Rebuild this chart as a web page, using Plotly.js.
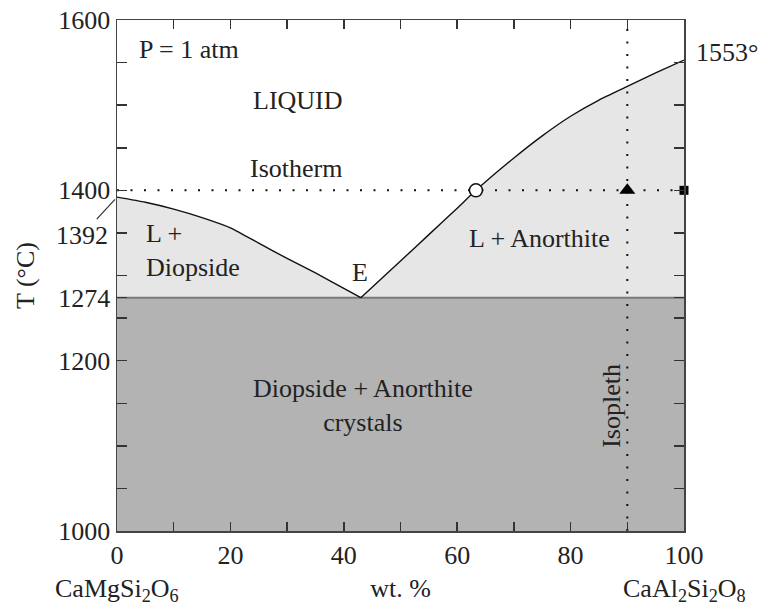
<!DOCTYPE html>
<html>
<head>
<meta charset="utf-8">
<script src="https://cdn.plot.ly/plotly-3.0.1.min.js"></script>
<style>html,body{margin:0;padding:0;background:#fff;}#chart{width:758px;height:606px;}</style>
</head>
<body>
<div id="chart"></div>
<script>
// Liquidus, Diopside side (wt.% Anorthite, T °C)
const liqDiX = [0, 5, 10, 15, 20, 25, 30, 35, 40, 43];
const liqDiT = [1392, 1386, 1378, 1368, 1356, 1338, 1320, 1303, 1285, 1274];
// Liquidus, Anorthite side
const liqAnX = [43, 50, 55, 60, 63.3, 70, 75, 80, 85, 90, 95, 100];
const liqAnT = [1274, 1317, 1348, 1379, 1400, 1438, 1464, 1487, 1506, 1522, 1538, 1553];
// Eutectic / solidus
const eutecticT = 1274;
const compRange = [0, 100];
const tRange = [1000, 1600];
// Isotherm and isopleth
const isothermT = 1400;
const isoplethX = 90;
// Points on the isotherm
const circleX = 63.3, triangleX = 90, squareX = 100;
// Tick labels
const xTickVals = [0, 20, 40, 60, 80, 100];
const xTickText = ['0', '20', '40', '60', '80', '100'];
const yTickVals = [1000, 1200, 1274, 1400, 1600];
const yTickText = ['1000', '1200', '1274', '1400', '1600'];

const F = 'Liberation Serif, Times New Roman, serif';
const txtCol = '#222';
const FS = 26;

// polygon for the light two-phase region
const polyX = liqDiX.concat(liqAnX.slice(1), [100, 0]);
const polyT = liqDiT.concat(liqAnT.slice(1), [eutecticT, eutecticT]);

const traces = [
  {x:[compRange[0],compRange[1],compRange[1],compRange[0]], y:[tRange[0],tRange[0],eutecticT,eutecticT],
   fill:'toself', fillcolor:'#b3b3b3', mode:'lines', line:{width:0}, hoverinfo:'skip'},
  {x:polyX, y:polyT, fill:'toself', fillcolor:'#e6e6e6', mode:'lines', line:{width:0}, hoverinfo:'skip'},
  {x:compRange, y:[eutecticT,eutecticT], mode:'lines', line:{color:'#7a7a7a', width:2}},
  {x:liqDiX, y:liqDiT, mode:'lines', line:{color:'#111', width:1.4, shape:'spline', smoothing:0.5}},
  {x:liqAnX, y:liqAnT, mode:'lines', line:{color:'#111', width:1.4, shape:'spline', smoothing:0.5}},
  {x:compRange, y:[isothermT,isothermT], mode:'lines', line:{color:'#111', width:2, dash:'2px,11.5px'}},
  {x:[isoplethX,isoplethX], y:tRange, mode:'lines', line:{color:'#111', width:2, dash:'2px,10.5px'}},
  {x:[circleX], y:[isothermT], mode:'markers', marker:{symbol:'circle', size:13, color:'#fff', line:{color:'#111', width:1.5}}},
  {x:[triangleX], y:[isothermT], mode:'markers', marker:{symbol:'triangle-up', size:14, color:'#000'}},
  {x:[squareX], y:[isothermT], mode:'markers', marker:{symbol:'square', size:9, color:'#000'}, cliponaxis:false}
];

const ann = (x, y, text, extra) => Object.assign({x, y, xref:'x', yref:'y', text, showarrow:false,
  font:{family:F, size:FS, color:txtCol}}, extra||{});

const layout = {
  width:758, height:606,
  margin:{l:117, r:74, t:20, b:75},
  paper_bgcolor:'#fff', plot_bgcolor:'#fff',
  showlegend:false,
  font:{family:F, size:FS, color:txtCol},
  xaxis:{range:compRange, tickmode:'array', tickvals:xTickVals, ticktext:xTickText, ticks:'inside', ticklen:9,
    tickcolor:'#333', tickwidth:1.5, showline:true, linecolor:'#444', linewidth:1.5, mirror:'ticks',
    minor:{dtick:10, tick0:0, ticks:'inside', ticklen:9, tickcolor:'#333', tickwidth:1.5, showgrid:false},
    showgrid:false, zeroline:false, fixedrange:true,
    tickfont:{family:F, size:FS, color:txtCol},
    title:{text:'wt. %', font:{family:F, size:FS, color:txtCol}, standoff:10}},
  yaxis:{range:tRange, tickmode:'array', tickvals:yTickVals, ticktext:yTickText, ticks:'inside', ticklen:10,
    tickcolor:'#333', tickwidth:1.5, showline:true, linecolor:'#444', linewidth:1.5, mirror:'ticks',
    minor:{dtick:50, tick0:1000, ticks:'inside', ticklen:10, tickcolor:'#333', tickwidth:1.5, showgrid:false},
    showgrid:false, zeroline:false, fixedrange:true,
    tickfont:{family:F, size:FS, color:txtCol},
    title:{text:'T (°C)', font:{family:F, size:FS, color:txtCol}, standoff:16}},
  annotations:[
    ann(3.5, 1565, 'P = 1 atm', {xanchor:'left'}),
    ann(32, 1506, 'LIQUID'),
    ann(31.6, 1426, 'Isotherm'),
    ann(4.8, 1329, 'L +<br>Diopside', {xanchor:'left', align:'left'}),
    ann(42.8, 1303, 'E'),
    ann(74.5, 1343, 'L + Anorthite'),
    ann(43.3, 1147, 'Diopside + Anorthite<br>crystals'),
    ann(87.3, 1147, 'Isopleth', {textangle:-90}),
    {x:1.0, xref:'paper', xanchor:'left', y:1562, yref:'y', text:'1553°', showarrow:false, xshift:10,
     font:{family:F, size:FS, color:txtCol}},
    {x:0, y:1392, xref:'x', yref:'y', text:'1392', showarrow:true, arrowhead:0, arrowwidth:1.2,
     arrowcolor:'#333', ax:-35, ay:38, standoff:3, font:{family:F, size:FS, color:txtCol}},
    {x:0, xref:'paper', y:-0.115, yref:'paper', text:'CaMgSi<sub>2</sub>O<sub>6</sub>', showarrow:false,
     xanchor:'center', yanchor:'middle', font:{family:F, size:FS, color:txtCol}},
    {x:1, xref:'paper', y:-0.115, yref:'paper', text:'CaAl<sub>2</sub>Si<sub>2</sub>O<sub>8</sub>', showarrow:false,
     xanchor:'center', yanchor:'middle', font:{family:F, size:FS, color:txtCol}}
  ]
};

Plotly.newPlot('chart', traces, layout, {displayModeBar:false, staticPlot:true});
</script>
</body>
</html>
